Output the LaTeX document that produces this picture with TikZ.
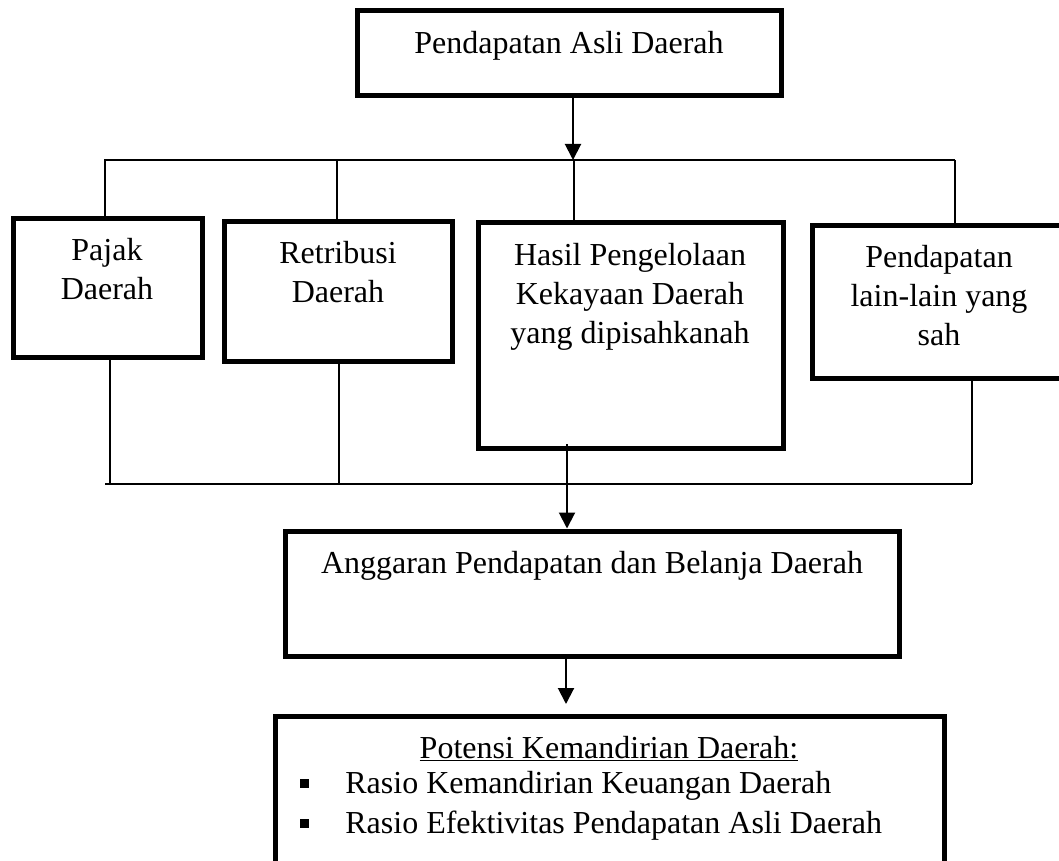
\documentclass[tikz,border=0pt]{standalone}
\usepackage{fontspec}
\setmainfont{Liberation Serif}
\usetikzlibrary{arrows.meta}

\begin{document}
\begin{tikzpicture}[x=1pt, y=-1pt, thick]
	\tikzstyle{kotak} = [rectangle, draw=black, line width=5pt, inner sep=0pt]
	\tikzstyle{teks}  = [anchor=north, align=center, inner sep=0pt, font=\fontsize{32}{39}\selectfont]
	\tikzstyle{butir} = [anchor=north west, inner sep=0pt, font=\fontsize{32}{39}\selectfont]
	\tikzstyle{garis} = [line width=1.2pt]
	\tikzstyle{panah} = [line width=2pt, -{Triangle[length=16pt, width=16pt]}]

	\useasboundingbox (0,0) rectangle (1059,861);

	% kotak-kotak
	\foreach \nama/\x/\y/\w/\h in {pad/569/53/424/85, pajak/107.5/287.5/189/139, retri/338/291/228/140, hasil/630.5/335/305/226, lain/939/301.5/254/153, apbd/592/593.5/614/125, pot/609.5/798/669/164}
		\node[kotak, minimum width=\w pt, minimum height=\h pt] (\nama) at (\x, \y) {};

	% teks di dalam kotak
	\foreach \nama/\x/\y/\isi in {pad/569/31/{Pendapatan Asli Daerah}, pajak/107/238/{Pajak\\Daerah}, retri/338/241/{Retribusi\\Daerah}, hasil/630/243/{Hasil Pengelolaan\\Kekayaan Daerah\\yang dipisahkanah}, lain/939/245/{Pendapatan\\lain-lain yang\\sah}, apbd/592/551/{Anggaran Pendapatan dan Belanja Daerah}, pot/609/736/{\underline{Potensi Kemandirian Daerah:}}}
		\node[teks] (t-\nama) at (\x, \y) {\isi};

	\node[butir] (b1) at (300, 771) {\makebox[45pt][l]{\raisebox{5.5pt}{\rule{9pt}{9pt}}}Rasio Kemandirian Keuangan Daerah};
	\node[butir] (b2) at (300, 811) {\makebox[45pt][l]{\raisebox{5.5pt}{\rule{9pt}{9pt}}}Rasio Efektivitas Pendapatan Asli Daerah};

	% titik pada garis cabang
	\coordinate (atas) at (573, 160);
	\coordinate (aL) at (104, 160);
	\coordinate (aR) at (955, 160);
	\coordinate (bL) at (105, 484);
	\coordinate (bR) at (972, 484);
	\foreach \nama/\x in {pajak/105, retri/337, hasil/574, lain/955}
		\coordinate (u-\nama) at (\x, 160);
	\foreach \nama/\x in {pajak/110, retri/339, lain/972}
		\coordinate (d-\nama) at (\x, 484);
	\coordinate (m1) at (567, 444);
	\coordinate (m2) at (566, 704);

	% garis
	\draw[panah] (pad.south -| atas) -- (atas);
	\draw[garis] (aL) -- (aR);
	\draw[garis] (bL) -- (bR);
	\foreach \nama in {pajak, retri, hasil, lain}
		\draw[garis] (u-\nama) -- (u-\nama |- \nama.north);
	\foreach \nama in {pajak, retri, lain}
		\draw[garis] (d-\nama |- \nama.south) -- (d-\nama);
	\draw[panah] (m1) -- (m1 |- apbd.north);
	\draw[panah] (m2 |- apbd.south) -- (m2);
\end{tikzpicture}
\end{document}
